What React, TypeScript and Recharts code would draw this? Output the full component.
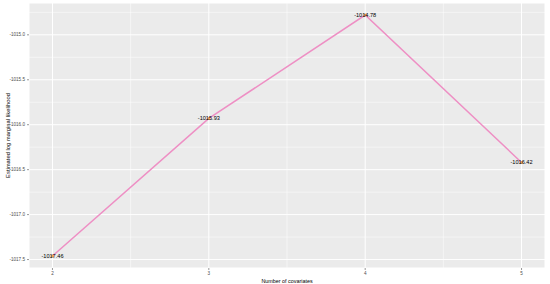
import { LineChart, Line, XAxis, YAxis, CartesianGrid, ReferenceLine } from 'recharts';

const covariates = [2, 3, 4, 5];
const logLik = [-1017.46, -1015.93, -1014.78, -1016.42];
const xTicks = [2, 3, 4, 5];
const yTicks = [-1017.5, -1017.0, -1016.5, -1016.0, -1015.5, -1015.0];
const xMinor = [2.5, 3.5, 4.5];
const yMinor = [-1017.25, -1016.75, -1016.25, -1015.75, -1015.25, -1014.75];

const data = covariates.map((k, i) => ({ k, ll: logLik[i] }));

const FONT = 'Liberation Sans, Arial, sans-serif';
const tickStyle = { fill: '#4d4d4d', fontSize: 4.6, fontFamily: FONT };

const renderLabel = (props: any) => {
  const { x, y, value } = props;
  return (
    <text x={x} y={y} dy={2} textAnchor="middle" fontSize={5.6} fill="#000" fontFamily={FONT}>
      {Number(value).toFixed(2)}
    </text>
  );
};

export default function App() {
  return (
    <div style={{ position: 'absolute', left: 0, top: 0, background: '#fff' }}>
      <LineChart width={550} height={284} data={data} margin={{ top: 3, right: 5, left: 5, bottom: 0 }}>
        <CartesianGrid fill="#ebebeb" stroke="#ffffff" strokeWidth={1} />
        {xMinor.map((v) => (
          <ReferenceLine key={'x' + v} x={v} stroke="#ffffff" strokeWidth={0.5} />
        ))}
        {yMinor.map((v) => (
          <ReferenceLine key={'y' + v} y={v} stroke="#ffffff" strokeWidth={0.5} />
        ))}
        <XAxis
          dataKey="k"
          type="number"
          domain={[1.85, 5.15]}
          ticks={xTicks}
          allowDataOverflow
          height={16}
          axisLine={false}
          tickLine={{ stroke: '#333', strokeWidth: 0.5 }}
          tickSize={2}
          tick={tickStyle}
          label={{ value: 'Number of covariates', position: 'insideBottom', offset: 1, fontSize: 5.4, fill: '#000', fontFamily: FONT }}
        />
        <YAxis
          type="number"
          domain={[-1017.594, -1014.646]}
          ticks={yTicks}
          allowDataOverflow
          width={24}
          axisLine={false}
          tickLine={{ stroke: '#333', strokeWidth: 0.5 }}
          tickSize={2}
          tick={tickStyle}
          tickFormatter={(v: number) => v.toFixed(1)}
          label={{ value: 'Estimated log marginal likelihood', angle: -90, position: 'insideLeft', offset: 3, style: { textAnchor: 'middle' }, fontSize: 5.8, fill: '#000', fontFamily: FONT }}
        />
        <Line
          type="linear"
          dataKey="ll"
          stroke="#ee8fc4"
          strokeWidth={1.5}
          dot={{ r: 1.5, fill: '#f4a259', stroke: 'none' }}
          label={renderLabel}
          isAnimationActive={false}
        />
      </LineChart>
    </div>
  );
}
